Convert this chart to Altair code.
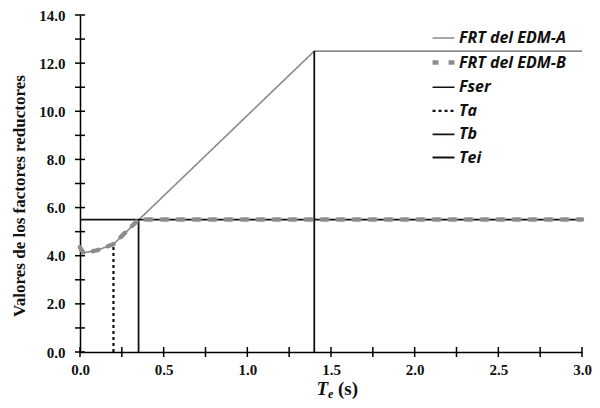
import altair as alt
import pandas as pd

series_names = ["FRT del EDM-A", "FRT del EDM-B", "Fser", "Ta", "Tb", "Tei"]

edm_a_t = [0.0, 0.02, 0.1, 0.2, 1.4, 3.0]
edm_a_v = [4.35, 4.12, 4.22, 4.48, 12.5, 12.5]

edm_b_t = [0.0, 0.02, 0.1, 0.2, 0.35, 3.0]
edm_b_v = [4.35, 4.12, 4.22, 4.48, 5.5, 5.5]

fser_t = [0.0, 3.0]
fser_v = [5.5, 5.5]

ta_t = [0.2, 0.2]
ta_v = [0.0, 4.45]

tb_t = [0.35, 0.35]
tb_v = [0.0, 5.5]

tei_t = [1.4, 1.4]
tei_v = [0.0, 12.5]

x_tick_vals = [0.0, 0.25, 0.5, 0.75, 1.0, 1.25, 1.5, 1.75, 2.0, 2.25, 2.5, 2.75, 3.0]
y_tick_vals = [0, 1, 2, 3, 4, 5, 6, 7, 8, 9, 10, 11, 12, 13, 14]
x_label_vals = [0.0, 0.5, 1.0, 1.5, 2.0, 2.5, 3.0]
y_label_vals = [0, 2, 4, 6, 8, 10, 12, 14]

rows = []
for name, ts, vs in [
    ("FRT del EDM-A", edm_a_t, edm_a_v),
    ("FRT del EDM-B", edm_b_t, edm_b_v),
    ("Fser", fser_t, fser_v),
    ("Ta", ta_t, ta_v),
    ("Tb", tb_t, tb_v),
    ("Tei", tei_t, tei_v),
]:
    for i, (t, v) in enumerate(zip(ts, vs)):
        rows.append({"serie": name, "T": t, "v": v, "i": i})
df = pd.DataFrame(rows)

W, H = 502, 337

xscale = alt.Scale(domain=[0, 3], nice=False, zero=False)
yscale = alt.Scale(domain=[0, 14], nice=False)

serif = "Liberation Serif"
sans = "Open Sans"

enc = dict(
    x=alt.X("T:Q", scale=xscale,
            axis=alt.Axis(values=x_label_vals, format=".1f", title=None, ticks=False,
                          grid=False, domainColor="black", domainWidth=1.5,
                          labelFont=serif, labelFontWeight="bold", labelFontSize=15,
                          labelColor="#111", labelPadding=10, labelFlush=False)),
    y=alt.Y("v:Q", scale=yscale,
            axis=alt.Axis(values=y_label_vals, format=".1f", title="Valores de los factores reductores",
                          ticks=False, grid=False, domainColor="black", domainWidth=1.5,
                          labelFont=serif, labelFontWeight="bold", labelFontSize=15,
                          labelColor="#111", labelPadding=15,
                          titleFont=serif, titleFontWeight="bold", titleFontSize=17,
                          titleColor="#111", titlePadding=10, titleY=H / 2 + 12)),
    color=alt.Color("serie:N", scale=alt.Scale(domain=series_names,
                    range=["#8a8a8a", "#8c8c8c", "#111111", "#111111", "#111111", "#111111"]),
                    title=None),
    strokeDash=alt.StrokeDash("serie:N", scale=alt.Scale(domain=series_names,
                    range=[[1, 0], [6, 10], [1, 0], [3, 3], [1, 0], [1, 0]]),
                    title=None),
    strokeWidth=alt.StrokeWidth("serie:N", scale=alt.Scale(type="ordinal", domain=series_names,
                    range=[1.6, 4.5, 1.6, 2.2, 1.8, 1.8]),
                    title=None),
    detail="serie:N",
    order="i:Q",
)

base = alt.Chart(df)
lines = base.mark_line(clip=False).encode(**enc).transform_filter(
    alt.datum.serie != "FRT del EDM-B")
edm_b = base.mark_line(clip=False, strokeCap="round").encode(**enc).transform_filter(
    alt.datum.serie == "FRT del EDM-B")

xt = alt.Chart(pd.DataFrame({"T": x_tick_vals})).mark_tick(
    orient="vertical", size=10, thickness=1.5, color="black", opacity=1
).encode(x=alt.X("T:Q", scale=xscale), y=alt.value(H))

yt = alt.Chart(pd.DataFrame({"v": y_tick_vals})).mark_tick(
    orient="horizontal", size=10, thickness=1.5, color="black", opacity=1
).encode(y=alt.Y("v:Q", scale=yscale), x=alt.value(0))

title_T = alt.Chart(pd.DataFrame({"a": [0]})).mark_text(
    text="T", font=serif, fontSize=19, fontWeight="bold", fontStyle="italic",
    align="right", baseline="alphabetic", color="#111"
).encode(x=alt.value(W / 2 - 3), y=alt.value(H + 43))
title_e = alt.Chart(pd.DataFrame({"a": [0]})).mark_text(
    text="e", font=serif, fontSize=12, fontWeight="bold", fontStyle="italic",
    align="left", baseline="alphabetic", color="#111"
).encode(x=alt.value(W / 2 - 3), y=alt.value(H + 46))
title_s = alt.Chart(pd.DataFrame({"a": [0]})).mark_text(
    text="(s)", font=serif, fontSize=19, fontWeight="bold",
    align="left", baseline="alphabetic", color="#111"
).encode(x=alt.value(W / 2 + 7), y=alt.value(H + 43))

chart = alt.layer(lines, edm_b, xt, yt, title_T, title_e, title_s).properties(
    width=W, height=H,
    autosize=alt.AutoSizeParams(type="none"),
    padding={"left": 72, "top": 7, "right": 10, "bottom": 48},
).configure_view(stroke=None).configure_legend(
    orient="none", legendX=350, legendY=11,
    symbolType="stroke", symbolSize=480, rowPadding=3.1,
    labelFont=sans, labelFontSize=16, labelFontWeight="bold", labelFontStyle="italic",
    labelColor="#111", labelOffset=2, labelLimit=300,
)

chart.save("out.html", embed_options={"renderer": "svg", "actions": False})
